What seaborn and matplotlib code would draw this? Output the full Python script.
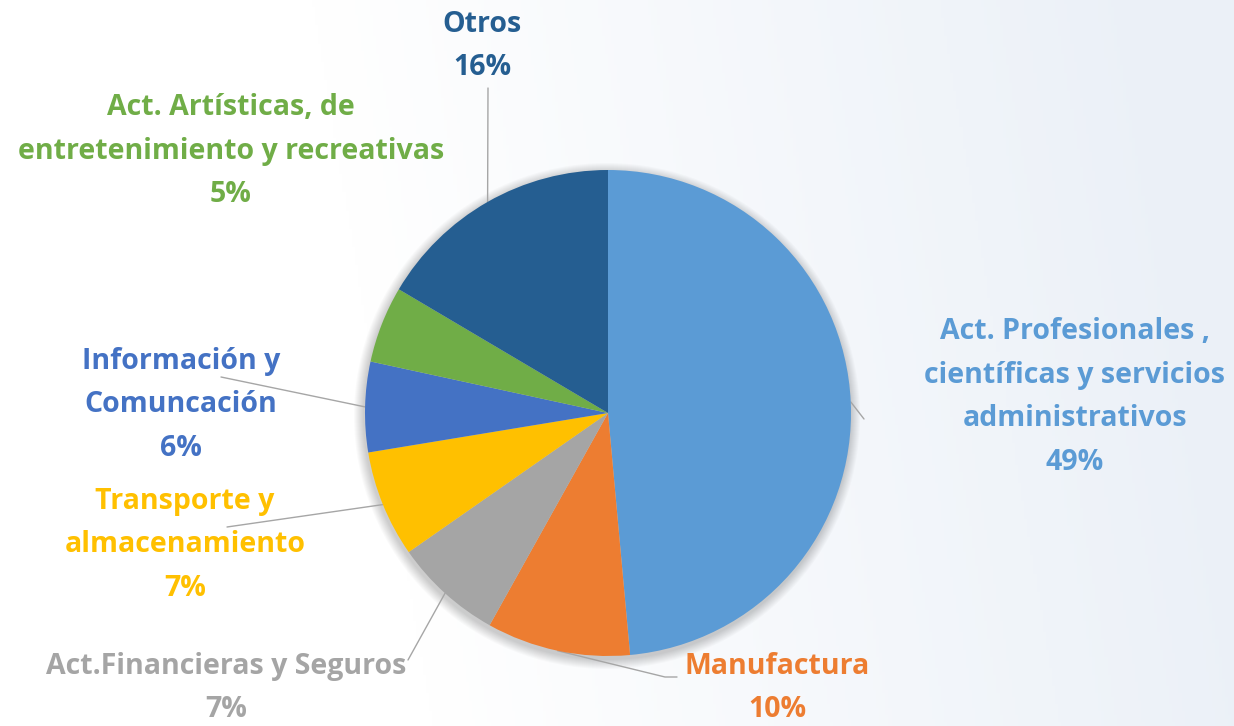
import numpy as np
import matplotlib
matplotlib.use('Agg')
import matplotlib.pyplot as plt
import seaborn as sns

sns.set_theme(style='white')
plt.rcParams['font.family'] = ['Open Sans', 'DejaVu Sans']

# data, clockwise from the top (shares)
sectors = ['Act. Profesionales ,\ncientíficas y servicios\nadministrativos',
           'Manufactura',
           'Act.Financieras y Seguros',
           'Transporte y\nalmacenamiento',
           'Información y\nComuncación',
           'Act. Artísticas, de\nentretenimiento y recreativas',
           'Otros']
shares = [48.55, 9.55, 7.2, 7.1, 6.0, 5.1, 16.5]
colors = ['#5B9BD5', '#ED7D31', '#A5A5A5', '#FFC000', '#4472C4', '#70AD47', '#255E91']

W, H = 1234, 726
fig = plt.figure(figsize=(W / 100, H / 100), dpi=100)

# soft background gradient (white on the left, pale blue-grey on the right)
bg = fig.add_axes([0, 0, 1, 1])
xs = np.linspace(0, 1, 400)
yy = np.linspace(0, 1, 200)[:, None]
g = np.clip((xs[None, :] - 0.35) / 0.65 + (1 - yy) * 0.15, 0, 1)
c0 = np.array([1.0, 1.0, 1.0])
c1 = np.array([0.925, 0.945, 0.972])
img = c0 + (c1 - c0) * g[..., None]
bg.imshow(img, aspect='auto', extent=[0, 1, 0, 1])
bg.axis('off')

ax = fig.add_axes([0, 0, 1, 1])
cx, cy, r = 608, H - 413, 243

# soft shadow under the pie
for k in range(10):
    ax.add_patch(plt.Circle((cx - 1, cy - 3), r + 10 - k, color='black', alpha=0.018, lw=0, zorder=0))

# label text positions (px from top-left) and leader line paths (px), None = no line
label_pos = [(1075, 397), (777, 688), (226, 688), (185, 545), (181, 405), (231, 151), (482, 46)]
leader = [[(864, 419)],
          [(665, 677), (677, 677)],
          [(408, 660)],
          [(227, 527)],
          [(221, 377)],
          None,
          [(488, 88)]]

# leader lines go behind the pie
wedges, _ = ax.pie(shares, colors=colors, startangle=90, counterclock=False,
                   center=(cx, cy), radius=r, frame=True,
                   wedgeprops=dict(linewidth=0, zorder=3))

for w, name, val, col, (lx, ly), path in zip(wedges, sectors, shares, colors, label_pos, leader):
    ax.text(lx, H - ly, f'{name}\n{val:.0f}%', ha='center', va='center', color=col,
            fontsize=20.5, fontweight='bold', linespacing=1.68, zorder=5)
    if path is not None:
        ang = np.deg2rad((w.theta1 + w.theta2) / 2)
        pts = [(cx + r * np.cos(ang), cy + r * np.sin(ang))] + [(px, H - py) for px, py in path]
        ax.plot([p[0] for p in pts], [p[1] for p in pts], color='#A6A6A6', lw=1, zorder=1)

ax.set_xlim(0, W)
ax.set_ylim(0, H)
ax.set_aspect('equal')
ax.axis('off')

fig.savefig('out.png', dpi=100)
